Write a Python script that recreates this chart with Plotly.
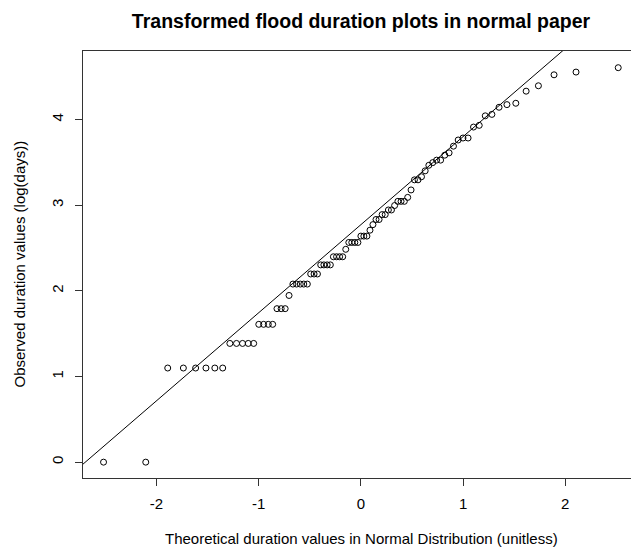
import plotly.graph_objects as go
import numpy as np
from statistics import NormalDist

# Theoretical normal quantiles (ranks 1..85)
theoretical_half = [-2.518, -2.105, -1.890, -1.737, -1.617, -1.516, -1.429, -1.352, -1.282,
                    -1.217, -1.158, -1.102, -1.049, -0.999, -0.952, -0.906, -0.863, -0.821,
                    -0.780, -0.741, -0.703, -0.665, -0.629, -0.593, -0.559, -0.524, -0.491,
                    -0.458, -0.425, -0.393, -0.362, -0.330, -0.299, -0.269, -0.238, -0.208,
                    -0.178, -0.148, -0.118, -0.089, -0.059, -0.029]
theoretical = theoretical_half + [0.0] + [-v for v in reversed(theoretical_half)]

# Observed log(days), sorted
observed = [0.000, 0.000,
            1.099, 1.099, 1.099, 1.099, 1.099, 1.099,
            1.386, 1.386, 1.386, 1.386, 1.386,
            1.609, 1.609, 1.609, 1.609,
            1.792, 1.792, 1.792,
            1.946,
            2.079, 2.079, 2.079, 2.079, 2.079,
            2.197, 2.197, 2.197,
            2.303, 2.303, 2.303, 2.303,
            2.398, 2.398, 2.398, 2.398,
            2.485,
            2.565, 2.565, 2.565, 2.565,
            2.639, 2.639, 2.639,
            2.708, 2.773, 2.833, 2.833, 2.890, 2.890, 2.944, 2.944, 2.996,
            3.045, 3.045, 3.045, 3.091, 3.178, 3.296, 3.296, 3.332, 3.401, 3.466,
            3.497, 3.526, 3.526, 3.584, 3.611, 3.689, 3.761, 3.784, 3.784, 3.912,
            3.932, 4.043, 4.060, 4.143, 4.174, 4.190, 4.331, 4.394, 4.522, 4.554, 4.605]

x_ticks = [-2, -1, 0, 1, 2]
y_ticks = [0, 1, 2, 3, 4]

title_text = "Transformed flood duration plots in normal paper"
x_title = "Theoretical duration values in Normal Distribution (unitless)"
y_title = "Observed duration values (log(days))"

# qqline through the quartiles
q1, q3 = np.percentile(observed, [25, 75])
z1, z3 = NormalDist().inv_cdf(0.25), NormalDist().inv_cdf(0.75)
slope = (q3 - q1) / (z3 - z1)
intercept = q1 - slope * z1

x_range = [-2.719, 2.643]
y_range = [-0.185, 4.80]
line_x = np.array(x_range)
line_y = intercept + slope * line_x

FONT = "Liberation Sans, Arial, sans-serif"

fig = go.Figure()
fig.add_trace(go.Scatter(x=line_x, y=line_y, mode="lines",
                         line=dict(color="black", width=1), hoverinfo="skip"))
fig.add_trace(go.Scatter(x=theoretical, y=observed, mode="markers",
                         marker=dict(symbol="circle-open", size=6, color="black",
                                     line=dict(width=1, color="black"))))

fig.update_layout(
    width=631, height=550, autosize=False,
    margin=dict(l=83, r=0, t=51, b=72),
    paper_bgcolor="white", plot_bgcolor="white",
    showlegend=False,
    font=dict(family=FONT, size=15, color="black"),
    title=dict(text="<b>" + title_text + "</b>", x=361/631, xref="container",
               xanchor="center", y=1 - 21/550, yref="container", yanchor="middle",
               font=dict(family=FONT, size=19.5, color="black")),
)
fig.update_xaxes(range=x_range, tickvals=x_ticks, ticktext=[str(v) for v in x_ticks],
                 showgrid=False, zeroline=False, showline=True, mirror=True,
                 linecolor="#333", linewidth=1, ticks="outside", ticklen=7,
                 tickcolor="#333", ticklabelstandoff=5,
                 tickfont=dict(family=FONT, size=15, color="black"))
fig.update_yaxes(range=y_range, tickvals=y_ticks, ticktext=[str(v) for v in y_ticks],
                 showgrid=False, zeroline=False, showline=True, mirror=False,
                 linecolor="#333", linewidth=1, ticks="outside", ticklen=7,
                 tickcolor="#333", tickangle=-90, ticklabelstandoff=6,
                 tickfont=dict(family=FONT, size=15, color="black"))

fig.add_annotation(text=x_title, xref="paper", yref="paper",
                   x=(361 - 83) / 548, y=(478 - 538) / 427,
                   xanchor="center", yanchor="middle", showarrow=False,
                   font=dict(family=FONT, size=15, color="black"))
fig.add_annotation(text=y_title, xref="paper", yref="paper",
                   x=(19 - 83) / 548, y=0.5, textangle=-90,
                   xanchor="center", yanchor="middle", showarrow=False,
                   font=dict(family=FONT, size=15, color="black"))

fig.write_html("out.html")
